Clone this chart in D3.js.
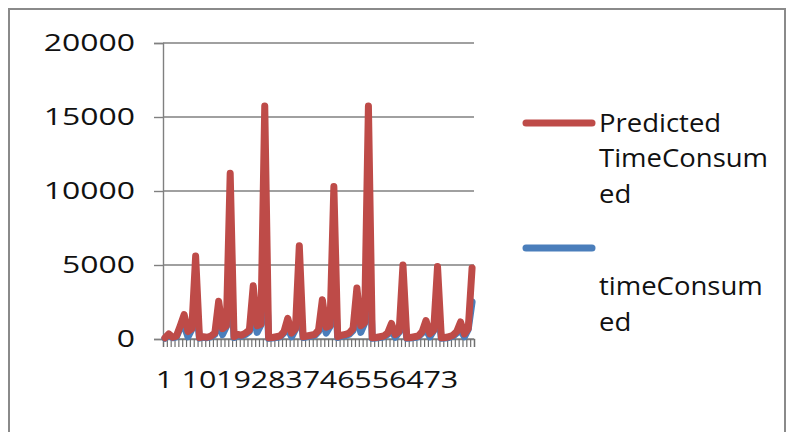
<!DOCTYPE html>
<html>
<head>
<meta charset="utf-8">
<script src="https://cdn.jsdelivr.net/npm/d3@7"></script>
<style>
  html, body { margin: 0; padding: 0; background: #fff; }
  svg { display: block; }
  .axis text { font-family: "Open Sans", sans-serif; fill: #111; }
  .legend text { font-family: "Open Sans", sans-serif; fill: #111; }
</style>
</head>
<body>
<div id="chart"></div>
<script>
// category numbers 1..81, labels every 9th category
const categories = d3.range(1, 82);
const tickLabels = [1, 10, 19, 28, 37, 46, 55, 64, 73];
const yTicks = [0, 5000, 10000, 15000, 20000];

const predicted = [
    80, 350, 120, 200, 900, 1650, 500, 700, 5600,
    100, 150, 120, 200, 400, 2550, 700, 900, 11200,
    150, 300, 250, 400, 600, 3600, 900, 1000, 15750,
    80, 100, 150, 200, 500, 1400, 400, 700, 6300,
    150, 200, 250, 300, 600, 2650, 800, 900, 10300,
    150, 250, 300, 400, 700, 3450, 900, 1100, 15750,
    80, 100, 150, 200, 400, 1050, 300, 500, 5000,
    80, 100, 150, 200, 500, 1250, 350, 600, 4900,
    80, 100, 150, 250, 500, 1150, 350, 700, 4800
];

const timeConsumed = [
    50, 280, 80, 150, 750, 900, 150, 650, 2400,
    60, 110, 90, 150, 320, 1300, 300, 850, 4800,
    100, 230, 190, 320, 500, 1800, 450, 950, 6700,
    50, 70, 100, 150, 400, 700, 150, 650, 2700,
    100, 150, 190, 240, 500, 1300, 400, 850, 4400,
    100, 190, 230, 320, 580, 1700, 450, 1050, 6700,
    50, 70, 100, 150, 320, 550, 120, 460, 2200,
    50, 70, 100, 150, 400, 650, 150, 560, 2100,
    50, 70, 100, 190, 400, 600, 150, 650, 2500
];

const series = [
    { name: ["Predicted", "TimeConsum", "ed"], values: predicted, color: "#be4b48" },
    { name: ["", "timeConsum", "ed"], values: timeConsumed, color: "#4a7ebb" }
];

const width = 795, height = 432;
const plot = { left: 163, right: 474, top: 43, bottom: 339 };

const svg = d3.select("#chart").append("svg")
    .attr("width", width)
    .attr("height", height);

// outer chart border
svg.append("rect")
    .attr("x", 9).attr("y", 9)
    .attr("width", 776).attr("height", 440)
    .attr("fill", "#fff")
    .attr("stroke", "#8a8a8a")
    .attr("stroke-width", 2);

// category axis uses boundaries 0..n, points sit at i + 0.5
const x = d3.scaleLinear()
    .domain([0, categories.length])
    .range([plot.left, plot.right]);

const y = d3.scaleLinear()
    .domain([0, 20000])
    .range([plot.bottom, plot.top]);

// gridlines
svg.append("g")
    .selectAll("line")
    .data(yTicks)
    .enter().append("line")
    .attr("x1", plot.left)
    .attr("x2", plot.right)
    .attr("y1", d => y(d))
    .attr("y2", d => y(d))
    .attr("stroke", "#808080")
    .attr("stroke-width", 1.4);

// y axis
const yAxis = svg.append("g")
    .attr("class", "axis")
    .attr("transform", `translate(${plot.left},0)`)
    .call(d3.axisLeft(y).tickValues(yTicks).tickSize(9).tickFormat(d3.format("d")));
yAxis.select(".domain").attr("stroke", "#808080").attr("stroke-width", 1.4);
yAxis.selectAll(".tick line").attr("stroke", "#808080").attr("stroke-width", 1.4);
yAxis.selectAll(".tick text")
    .attr("x", 0)
    .attr("font-size", 24)
    .attr("transform", "translate(-28,0) scale(1.33,1)");

// x axis tick marks between categories
const xTickAxis = svg.append("g")
    .attr("class", "axis")
    .attr("transform", `translate(0,${plot.bottom})`)
    .call(d3.axisBottom(x).tickValues(d3.range(categories.length + 1)).tickSize(8).tickFormat(""));
xTickAxis.select(".domain").attr("stroke", "#808080").attr("stroke-width", 1.4);
xTickAxis.selectAll(".tick line").attr("stroke", "#6f6f6f").attr("stroke-width", 1.2);

// x axis labels
const xLabelAxis = svg.append("g")
    .attr("class", "axis")
    .attr("transform", `translate(0,${plot.bottom})`)
    .call(d3.axisBottom(x)
        .tickValues(tickLabels.map(c => categories.indexOf(c) + 0.5))
        .tickSize(0)
        .tickFormat(v => categories[Math.floor(v)]));
xLabelAxis.select(".domain").remove();
xLabelAxis.selectAll(".tick text")
    .attr("y", 49)
    .attr("dy", 0)
    .attr("font-size", 24)
    .attr("transform", "translate(-1,0) scale(1.27,1)");

// lines, blue first so the red one sits on top
const line = d3.line()
    .x((d, i) => x(i + 0.5))
    .y(d => y(d));

svg.append("g")
    .selectAll("path")
    .data(series.slice().reverse())
    .enter().append("path")
    .attr("d", d => line(d.values))
    .attr("fill", "none")
    .attr("stroke", d => d.color)
    .attr("stroke-width", 7)
    .attr("stroke-linejoin", "round")
    .attr("stroke-linecap", "round");

// legend
const legendLayout = [
    { lineY: 123, baselines: [132, 167, 203] },
    { lineY: 248, baselines: [260, 295, 331] }
];

const legend = svg.append("g").attr("class", "legend");
series.forEach((s, i) => {
    const lay = legendLayout[i];
    legend.append("line")
        .attr("x1", 526).attr("x2", 592)
        .attr("y1", lay.lineY).attr("y2", lay.lineY)
        .attr("stroke", s.color)
        .attr("stroke-width", 7)
        .attr("stroke-linecap", "round");
    s.name.forEach((t, j) => {
        if (!t) return;
        legend.append("text")
            .attr("transform", `translate(599,${lay.baselines[j]}) scale(1.1,1)`)
            .attr("font-size", 25)
            .text(t);
    });
});
</script>
</body>
</html>
